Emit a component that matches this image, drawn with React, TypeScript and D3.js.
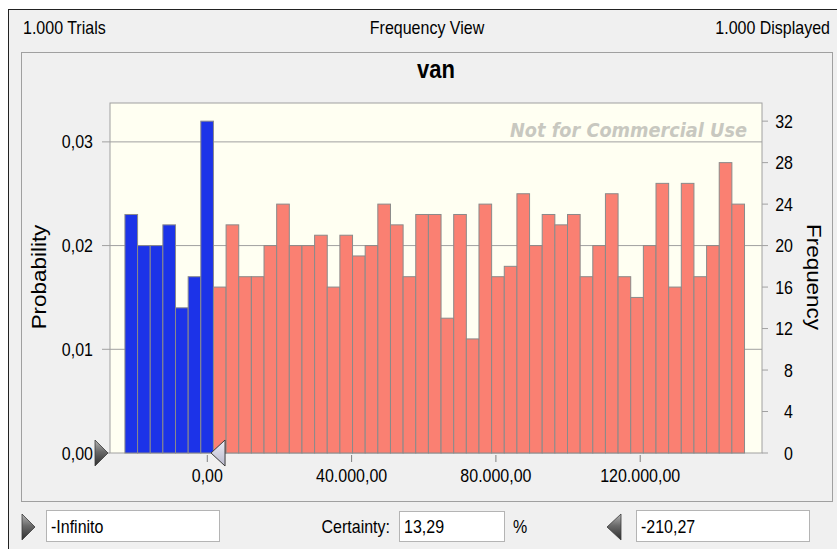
import * as d3 from "d3";

// histogram of "van", 1.000 trials
const frequencies = [
  23, 20, 20, 22, 14, 17, 32,
  16, 22, 17, 17, 20, 24, 20, 20, 21, 16,
  21, 19, 20, 24, 22, 17, 23, 23, 13, 23,
  11, 24, 17, 18, 25, 20, 23, 22, 23, 17,
  20, 25, 17, 15, 20, 26, 16, 26, 17, 20,
  28, 24,
];
const BIN_START = -22830;
const BIN_WIDTH = 3505;
const BLUE_BINS = 7;
const TRIALS = 1000;

const xTicks = [0, 40000, 80000, 120000];
const probTicks = [0, 0.01, 0.02, 0.03];
const freqTicks = [0, 4, 8, 12, 16, 20, 24, 28, 32];

const headerLeft = "1.000 Trials";
const headerMid = "Frequency View";
const headerRight = "1.000 Displayed";
const title = "van";
const lowerValue = "-Infinito";
const certainty = "13,29";
const upperValue = "-210,27";
const upperNum = -210.27;

const W = 837;
const H = 549;
const SY = 1.15; // the screenshot is stretched vertically
const FONT = "'Liberation Sans', Arial, sans-serif";

const locale = d3.formatLocale({ decimal: ",", thousands: ".", grouping: [3], currency: ["", ""] });
const fmt = locale.format(",.2f");

const x = d3.scaleLinear().domain([-26970, 153760]).range([110, 762]);
const yFreq = d3.scaleLinear().domain([0, 33.75]).range([453, 103]);
const yProb = d3.scaleLinear().domain([0, 33.75 / TRIALS]).range([453, 103]);

type TProps = {
  x: number;
  y: number;
  size?: number;
  anchor?: "start" | "middle" | "end";
  weight?: string;
  italic?: boolean;
  fill?: string;
  rotate?: number;
  family?: string;
  length?: number;
  children: string;
};

function T({ x, y, size = 16, anchor = "start", weight = "normal", italic, fill = "#000", rotate, family = FONT, length, children }: TProps) {
  return (
    <g transform={`translate(${x},${y}) scale(1,${SY})${rotate ? ` rotate(${rotate})` : ""}`}>
      <text
        textAnchor={anchor}
        fontFamily={family}
        fontSize={size}
        fontWeight={weight}
        fontStyle={italic ? "italic" : "normal"}
        fill={fill}
        textLength={length}
        lengthAdjust={length ? "spacingAndGlyphs" : undefined}
      >
        {children}
      </text>
    </g>
  );
}

const mid = (c: number, size = 16) => c + (0.716 * size * SY) / 2;

export default function App() {
  const [x0, x1] = x.range();
  const [yb, yt] = yFreq.range();
  const grey = "#a0a0a0";

  return (
    <svg width={W} height={H} style={{ position: "absolute", left: 0, top: 0 }}>
      <defs>
        <linearGradient id="dark" x1="0" y1="0" x2="0" y2="1">
          <stop offset="0" stopColor="#b4b4b4" />
          <stop offset="0.45" stopColor="#6a6a6a" />
          <stop offset="1" stopColor="#2e2e2e" />
        </linearGradient>
        <linearGradient id="light" x1="0" y1="0" x2="0" y2="1">
          <stop offset="0" stopColor="#eeeef6" />
          <stop offset="1" stopColor="#b8b8cc" />
        </linearGradient>
      </defs>

      <rect width={W} height={H} fill="#fff" />
      {/* window */}
      <rect x={8} y={9} width={W} height={H} fill="#f0f0f0" />
      <line x1={8} x2={W} y1={9.5} y2={9.5} stroke="#222" />
      <line x1={8.5} x2={8.5} y1={9} y2={H} stroke="#222" />

      <T x={23} y={34}>{headerLeft}</T>
      <T x={427} y={34} anchor="middle">{headerMid}</T>
      <T x={830} y={34} anchor="end">{headerRight}</T>

      {/* chart panel */}
      <rect x={21.5} y={52.5} width={811} height={449} fill="#f0f0f0" stroke={grey} />
      <T x={(x0 + x1) / 2} y={78} size={22} weight="bold" anchor="middle">{title}</T>

      <rect x={x0} y={yt} width={x1 - x0} height={yb - yt} fill="#fffff2" stroke={grey} />

      {probTicks.filter((p) => p > 0).map((p) => (
        <line key={p} x1={x0} x2={x1} y1={yProb(p)} y2={yProb(p)} stroke={grey} />
      ))}

      <T
        x={510}
        y={137}
        size={16.5}
        italic
        weight="bold"
        fill="#c8c8c0"
        family="'DejaVu Sans', Verdana, sans-serif"
        length={237}
      >
        Not for Commercial Use
      </T>

      {frequencies.map((f, i) => {
        const a = x(BIN_START + i * BIN_WIDTH);
        const b = x(BIN_START + (i + 1) * BIN_WIDTH);
        return (
          <rect
            key={i}
            x={a}
            y={yFreq(f)}
            width={b - a}
            height={yb - yFreq(f)}
            fill={i < BLUE_BINS ? "#1c33e8" : "#fa8072"}
            stroke="#8a8a8a"
            strokeWidth={1}
          />
        );
      })}

      {/* left axis */}
      {probTicks.map((p) => (
        <g key={p}>
          <line x1={x0 - 8} x2={x0} y1={yProb(p)} y2={yProb(p)} stroke={grey} />
          <T x={93} y={mid(yProb(p))} anchor="end">{fmt(p)}</T>
        </g>
      ))}
      <T x={46} y={277} size={19.5} anchor="middle" rotate={-90}>Probability</T>

      {/* right axis */}
      {freqTicks.map((f) => (
        <g key={f}>
          <line x1={x1} x2={x1 + 6} y1={yFreq(f)} y2={yFreq(f)} stroke={grey} />
          <T x={793} y={mid(yFreq(f))} anchor="end">{String(f)}</T>
        </g>
      ))}
      <T x={807} y={277} size={19.5} anchor="middle" rotate={90}>Frequency</T>

      {/* bottom axis */}
      {xTicks.map((v) => (
        <g key={v}>
          <line x1={x(v)} x2={x(v)} y1={yb + 2} y2={yb + 9} stroke="#808080" />
          <T x={x(v)} y={482} anchor="middle">{fmt(v)}</T>
        </g>
      ))}

      {/* certainty grabbers */}
      <path
        d={`M${x0 - 15},${yb - 13}L${x0 - 2},${yb}L${x0 - 15},${yb + 13}Z`}
        fill="url(#dark)"
        stroke="#3a3a3a"
        strokeWidth={0.8}
      />
      <path
        d={`M${x(upperNum) + 4.5},${yb}L${x(upperNum) + 18.5},${yb - 13}L${x(upperNum) + 18.5},${yb + 13}Z`}
        fill="url(#light)"
        stroke="#3a3a3a"
        strokeWidth={1}
      />

      {/* bottom controls */}
      <path d="M22,514L35,527L22,540Z" fill="url(#dark)" stroke="#3a3a3a" strokeWidth={0.8} />
      <rect x={46.5} y={510.5} width={173} height={31} fill="#fff" stroke="#b4b4b4" />
      <T x={51} y={533}>{lowerValue}</T>

      <T x={390} y={533} anchor="end">Certainty:</T>
      <rect x={399.5} y={511.5} width={105} height={30} fill="#fff" stroke="#b4b4b4" />
      <T x={404} y={533}>{certainty}</T>
      <T x={513} y={533}>%</T>

      <path d="M607,527L621,514L621,540Z" fill="url(#dark)" stroke="#3a3a3a" strokeWidth={0.8} />
      <rect x={636.5} y={510.5} width={173} height={31} fill="#fff" stroke="#b4b4b4" />
      <T x={641} y={533}>{upperValue}</T>
    </svg>
  );
}
